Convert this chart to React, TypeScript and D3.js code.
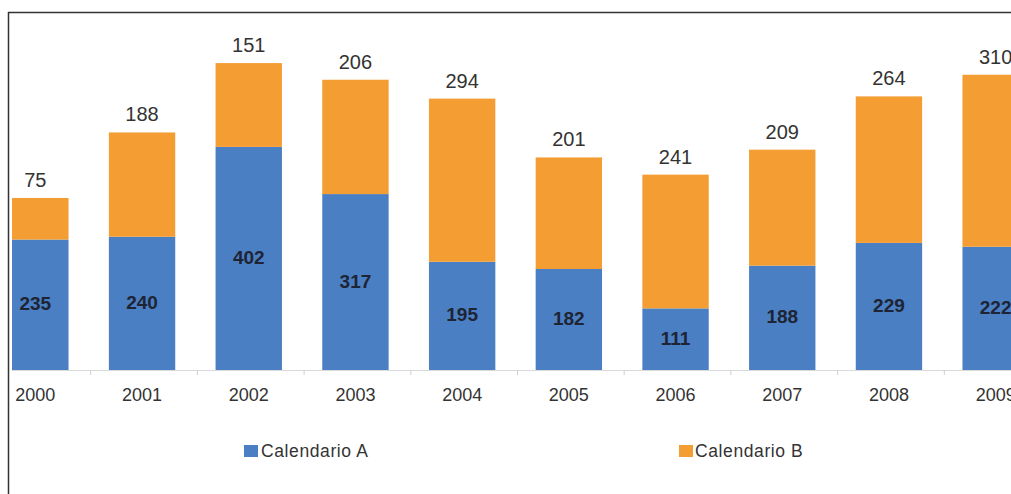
import React from 'react';
import * as d3 from 'd3';

const years = ['2000', '2001', '2002', '2003', '2004', '2005', '2006', '2007', '2008', '2009'];
const calendarioA = [235, 240, 402, 317, 195, 182, 111, 188, 229, 222];
const calendarioB = [75, 188, 151, 206, 294, 201, 241, 209, 264, 310];

const BLUE = '#4a7fc4';
const ORANGE = '#f39d33';

export default function App() {
  const width = 1011;
  const height = 494;
  const baseY = 370;

  const x = d3.scaleBand<string>()
    .domain(years)
    .range([-18, 1049])
    .paddingInner(0.378)
    .paddingOuter(0.189);

  const y = d3.scaleLinear().domain([0, 600]).range([baseY, 37]);

  const stacked = years.map((yr, i) => ({
    yr,
    a: calendarioA[i],
    b: calendarioB[i],
  }));

  const font = '"Liberation Sans", Arial, sans-serif';

  return (
    <svg
      width={width}
      height={height}
      style={{ position: 'absolute', left: 0, top: 0, background: '#fff' }}
      fontFamily={font}
    >
      <defs>
        <clipPath id="plot">
          <rect x={12} y={13} width={width} height={height} />
        </clipPath>
      </defs>

      <g clipPath="url(#plot)">
        {/* axis line */}
        <line x1={0} x2={width} y1={baseY + 0.5} y2={baseY + 0.5} stroke="#d9d9d9" strokeWidth={1} />
        {years.map((yr) => {
          const tx = (x(yr) ?? 0) - (x.step() - x.bandwidth()) / 2 + 2;
          return (
            <line key={'t' + yr} x1={tx} x2={tx} y1={baseY} y2={baseY + 5} stroke="#cfcfcf" />
          );
        })}

        {stacked.map((d) => {
          const bx = x(d.yr) ?? 0;
          const bw = x.bandwidth();
          const cx = bx + bw / 2;
          const topA = y(d.a);
          const topB = y(d.a + d.b);
          return (
            <g key={d.yr}>
              <rect x={bx} y={topA} width={bw} height={baseY - topA} fill={BLUE} />
              <rect x={bx} y={topB} width={bw} height={topA - topB} fill={ORANGE} />
              <text
                x={cx}
                y={(topA + baseY) / 2 - 1}
                textAnchor="middle"
                dominantBaseline="central"
                fontSize={19}
                fontWeight="bold"
                fill="#1e2433"
              >
                {d.a}
              </text>
              <text x={cx} y={topB - 11} textAnchor="middle" fontSize={20} fill="#333">
                {d.b}
              </text>
              <text x={cx} y={401} textAnchor="middle" fontSize={18} fill="#333">
                {d.yr}
              </text>
            </g>
          );
        })}
      </g>

      {/* frame */}
      <line x1={8.5} x2={8.5} y1={12} y2={height} stroke="#333" strokeWidth={1.5} />
      <line x1={8} x2={width} y1={12.5} y2={12.5} stroke="#333" strokeWidth={1.5} />

      {/* legend */}
      <rect x={244} y={445} width={14} height={12} fill={BLUE} />
      <text x={261} y={457} fontSize={17.5} fill="#333" letterSpacing={0.6}>Calendario A</text>
      <rect x={679} y={445} width={14} height={12} fill={ORANGE} />
      <text x={695} y={457} fontSize={17.5} fill="#333" letterSpacing={0.6}>Calendario B</text>
    </svg>
  );
}
